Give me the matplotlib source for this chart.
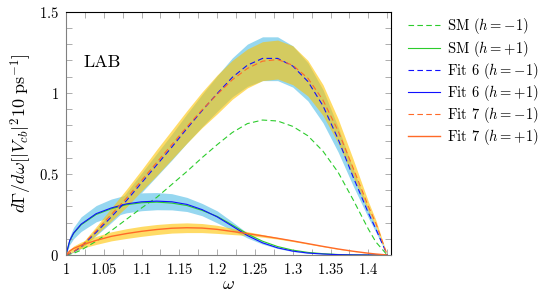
import matplotlib
matplotlib.use("Agg")
import matplotlib.pyplot as plt
from matplotlib.ticker import MultipleLocator, FixedLocator, FixedFormatter

plt.rcParams["font.family"] = "cmr10"
plt.rcParams["mathtext.fontset"] = "cm"
plt.rcParams["axes.formatter.use_mathtext"] = True

# omega grid
w = [1.0, 1.005, 1.01, 1.02, 1.04, 1.06, 1.08, 1.10, 1.12, 1.14, 1.16, 1.18, 1.20,
     1.22, 1.24, 1.26, 1.28, 1.30, 1.32, 1.34, 1.36, 1.38, 1.40, 1.41, 1.425]

# SM curves
sm_minus = [0, 0.005, 0.01, 0.03, 0.085, 0.15, 0.22, 0.29, 0.355, 0.435, 0.515, 0.60, 0.68,
            0.755, 0.81, 0.832, 0.826, 0.793, 0.735, 0.64, 0.51, 0.34, 0.16, 0.08, 0]
sm_plus = [0, 0.088, 0.132, 0.186, 0.25, 0.285, 0.31, 0.322, 0.326, 0.32, 0.305, 0.275, 0.238,
           0.185, 0.13, 0.085, 0.052, 0.03, 0.016, 0.008, 0.003, 0.001, 0, 0, 0]

# Fit 6
fit6_minus = [0, 0.01, 0.02, 0.05, 0.14, 0.235, 0.335, 0.445, 0.555, 0.665, 0.78, 0.89, 0.995,
              1.095, 1.17, 1.212, 1.212, 1.165, 1.07, 0.92, 0.715, 0.48, 0.26, 0.16, 0]
fit6_minus_hi = [0, 0.012, 0.024, 0.06, 0.16, 0.27, 0.385, 0.505, 0.625, 0.745, 0.87, 0.99, 1.105,
                 1.215, 1.30, 1.345, 1.345, 1.29, 1.185, 1.02, 0.79, 0.53, 0.285, 0.175, 0]
fit6_minus_lo = [0, 0.008, 0.016, 0.04, 0.12, 0.20, 0.285, 0.385, 0.485, 0.585, 0.69, 0.79, 0.885,
                 0.975, 1.04, 1.075, 1.075, 1.035, 0.95, 0.815, 0.635, 0.425, 0.23, 0.14, 0]
fit6_plus = [0, 0.09, 0.135, 0.19, 0.255, 0.29, 0.315, 0.328, 0.332, 0.328, 0.312, 0.28, 0.235,
             0.178, 0.12, 0.075, 0.044, 0.024, 0.012, 0.006, 0.002, 0.0005, 0, 0, 0]
fit6_plus_hi = [0, 0.115, 0.17, 0.235, 0.305, 0.345, 0.37, 0.383, 0.385, 0.378, 0.355, 0.318, 0.272,
                0.205, 0.135, 0.083, 0.048, 0.027, 0.014, 0.007, 0.003, 0.001, 0, 0, 0]
fit6_plus_lo = [0, 0.065, 0.10, 0.145, 0.205, 0.235, 0.26, 0.273, 0.279, 0.278, 0.268, 0.242, 0.198,
                0.152, 0.105, 0.067, 0.04, 0.021, 0.01, 0.005, 0.001, 0, 0, 0, 0]

# Fit 7
fit7_minus = [0, 0.011, 0.022, 0.055, 0.15, 0.25, 0.35, 0.46, 0.57, 0.68, 0.79, 0.895, 0.99,
              1.08, 1.15, 1.195, 1.205, 1.17, 1.09, 0.955, 0.765, 0.535, 0.30, 0.195, 0]
fit7_minus_hi = [0, 0.013, 0.026, 0.065, 0.175, 0.29, 0.405, 0.525, 0.65, 0.77, 0.89, 1.005, 1.11,
                 1.20, 1.27, 1.315, 1.325, 1.29, 1.20, 1.05, 0.84, 0.59, 0.33, 0.215, 0]
fit7_minus_lo = [0, 0.009, 0.018, 0.045, 0.125, 0.21, 0.295, 0.395, 0.49, 0.59, 0.69, 0.785, 0.87,
                 0.96, 1.03, 1.075, 1.085, 1.05, 0.98, 0.86, 0.69, 0.48, 0.27, 0.175, 0]
fit7_plus = [0, 0.025, 0.04, 0.06, 0.09, 0.115, 0.132, 0.146, 0.157, 0.165, 0.168, 0.166, 0.158,
             0.145, 0.132, 0.118, 0.103, 0.087, 0.07, 0.053, 0.037, 0.023, 0.011, 0.006, 0]
fit7_plus_hi = [0, 0.035, 0.055, 0.08, 0.115, 0.143, 0.162, 0.177, 0.188, 0.195, 0.198, 0.194, 0.183,
                0.164, 0.144, 0.126, 0.108, 0.091, 0.073, 0.055, 0.039, 0.024, 0.012, 0.006, 0]
fit7_plus_lo = [0, 0.015, 0.025, 0.04, 0.065, 0.087, 0.102, 0.115, 0.126, 0.135, 0.138, 0.138, 0.133,
                0.126, 0.12, 0.11, 0.098, 0.083, 0.067, 0.051, 0.035, 0.022, 0.01, 0.005, 0]

green = "#2ccc2c"
blue = "#1010ff"
orange = "#ff6a28"
band_blue = "#96d7f0"
band_yellow = "#ffc400"

fig = plt.figure(figsize=(5.49, 2.99), dpi=100)
ax = fig.add_axes([0.1202, 0.1472, 0.592, 0.8137])

# uncertainty bands
ax.fill_between(w, fit6_minus_lo, fit6_minus_hi, color=band_blue, lw=0)
ax.fill_between(w, fit6_plus_lo, fit6_plus_hi, color=band_blue, lw=0)
ax.fill_between(w, fit7_minus_lo, fit7_minus_hi, color=band_yellow, alpha=0.6, lw=0)
ax.fill_between(w, fit7_plus_lo, fit7_plus_hi, color=band_yellow, alpha=0.6, lw=0)

dash = (5, 3)
ax.plot(w, sm_minus, color=green, lw=0.8, dashes=dash, label=r"SM ($h=-1$)")
ax.plot(w, sm_plus, color=green, lw=0.8, label=r"SM ($h=+1$)")
ax.plot(w, fit6_minus, color=blue, lw=0.8, dashes=dash, label=r"Fit 6 ($h=-1$)")
ax.plot(w, fit6_plus, color=blue, lw=0.8, label=r"Fit 6 ($h=+1$)")
ax.plot(w, fit7_minus, color=orange, lw=0.8, dashes=dash, label=r"Fit 7 ($h=-1$)")
ax.plot(w, fit7_plus, color=orange, lw=1.0, label=r"Fit 7 ($h=+1$)")

ax.set_xlim(1.0, 1.43)
ax.set_ylim(0, 1.5)

xt = [1.0, 1.05, 1.1, 1.15, 1.2, 1.25, 1.3, 1.35, 1.4]
ax.xaxis.set_major_locator(FixedLocator(xt))
ax.xaxis.set_major_formatter(FixedFormatter([f"${t:g}$" for t in xt]))
ax.xaxis.set_minor_locator(MultipleLocator(0.025))
yt = [0, 0.5, 1.0, 1.5]
ax.yaxis.set_major_locator(FixedLocator(yt))
ax.yaxis.set_major_formatter(FixedFormatter([f"${t:g}$" for t in yt]))
ax.yaxis.set_minor_locator(MultipleLocator(0.1))

ax.tick_params(which="both", direction="in", top=True, right=True, length=4,
               width=0.6, color="#a0a0a0", labelsize=10.5, pad=5)

for side in ["left", "bottom"]:
    ax.spines[side].set_color("#808080")
for side in ["top", "right"]:
    ax.spines[side].set_color("black")
for s in ax.spines.values():
    s.set_linewidth(0.8)

ax.set_xlabel(r"$\omega$", fontsize=13, labelpad=0)
ax.set_ylabel(r"$d\Gamma/d\omega[|V_{cb}|^2\mathrm{10\ ps}^{-1}]$", fontsize=13, labelpad=4)

ax.text(1.023, 1.185, "LAB", fontsize=13, va="center", ha="left")

fig.legend(loc="upper left", bbox_to_anchor=(0.743, 0.945), frameon=False,
           fontsize=10.5, handlelength=2.2, handletextpad=0.5, labelspacing=0.15,
           borderpad=0, borderaxespad=0)

fig.savefig("out.png", dpi=100)
